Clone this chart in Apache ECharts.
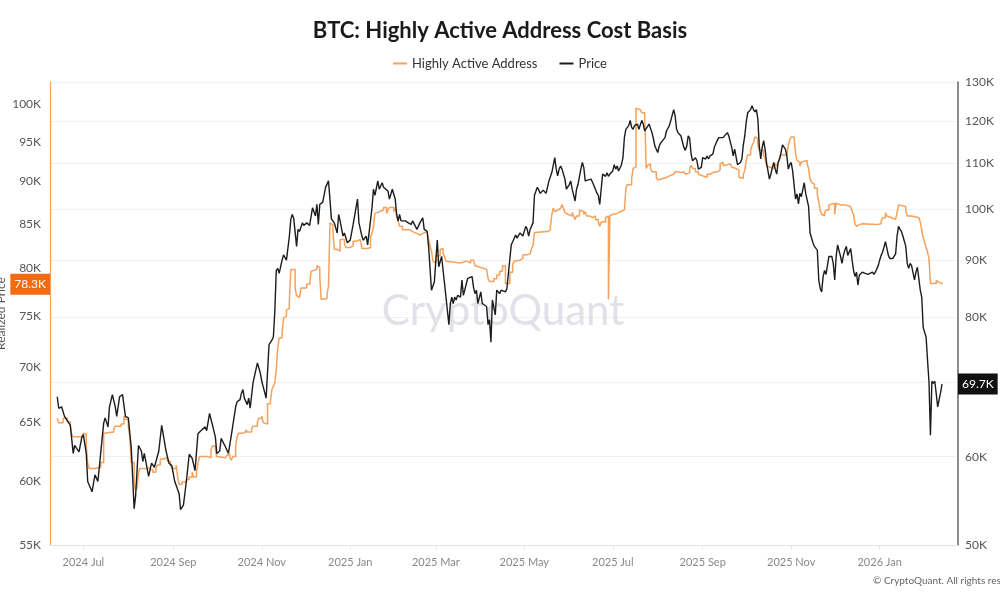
<!DOCTYPE html>
<html>
<head>
<meta charset="utf-8">
<script src="https://cdn.jsdelivr.net/npm/echarts@6/dist/echarts.min.js"></script>
<style>
html,body{margin:0;padding:0;background:#fff;}
#chart{width:1000px;height:600px;}
</style>
</head>
<body>
<div id="chart"></div>
<script>
// ---------- tick labels / categories ----------
const monthTicks = ['2024-07-01','2024-09-01','2024-11-01','2025-01-01','2025-03-01','2025-05-01','2025-07-01','2025-09-01','2025-11-01','2026-01-01'];
const xRange = ['2024-06-08', '2026-02-24'];
const leftTicks = [55,60,65,70,75,80,85,90,95,100];        // Realized Price (K)
const rightTicks = [50,60,70,80,90,100,110,120,130];       // Price (K) gridlines
const rightLabels = [50,60,70,80,90,100,110,120,130];
const monthNames = ['Jan','Feb','Mar','Apr','May','Jun','Jul','Aug','Sep','Oct','Nov','Dec'];

// ---------- Highly Active Address cost basis (K USD) ----------
const haa2024 = [
['2024-06-13',65.3],['2024-06-14',64.9],['2024-06-17',65.3],['2024-06-20',65.0],['2024-06-22',64.6],['2024-06-23',63.9],['2024-06-24',63.7],['2024-07-01',64.0],['2024-07-02',63.9],['2024-07-03',62.9],['2024-07-04',61.4],['2024-07-05',61.0],['2024-07-09',61.1],['2024-07-13',61.5],['2024-07-15',64.0],['2024-07-16',64.1],['2024-07-22',64.4],['2024-07-23',64.6],['2024-07-27',64.8],['2024-07-29',65.5],['2024-07-30',65.2],['2024-08-01',64.6],['2024-08-02',63.7],['2024-08-03',61.5],['2024-08-05',59.9],['2024-08-06',59.2],['2024-08-07',59.4],['2024-08-08',60.7],['2024-08-09',61.0],['2024-08-14',61.1],['2024-08-16',60.9],['2024-08-18',60.7],['2024-08-20',61.0],['2024-08-21',61.3],['2024-08-23',61.8],['2024-08-25',61.9],['2024-08-28',61.6],['2024-08-30',61.3],['2024-08-31',61.0],['2024-09-03',61.3],['2024-09-04',60.3],['2024-09-05',59.7],['2024-09-07',59.9],['2024-09-10',60.1],['2024-09-12',60.3],['2024-09-14',60.7],['2024-09-15',60.3],['2024-09-17',60.7],['2024-09-18',61.4],['2024-09-19',62.0],['2024-09-25',61.9],['2024-09-27',62.6],['2024-09-28',62.9],['2024-09-30',62.6],['2024-10-01',62.0],['2024-10-02',61.9],['2024-10-07',62.0],['2024-10-08',62.1],['2024-10-09',62.2],['2024-10-10',61.9],['2024-10-11',61.7],['2024-10-12',62.0],['2024-10-14',62.9],['2024-10-15',63.7],['2024-10-16',64.0],['2024-10-19',64.1],['2024-10-21',64.3],['2024-10-22',64.1],['2024-10-25',64.4],['2024-10-26',64.6],['2024-10-29',65.0],['2024-10-30',65.3],['2024-11-01',65.5],['2024-11-02',64.9],['2024-11-03',64.8],['2024-11-05',66.6],['2024-11-07',66.9],['2024-11-08',67.9],['2024-11-09',68.2],['2024-11-10',68.5],['2024-11-11',69.8],['2024-11-12',71.8],['2024-11-13',72.8],['2024-11-15',73.3],['2024-11-16',74.8],['2024-11-17',75.0],['2024-11-18',75.6],['2024-11-19',75.8],['2024-11-20',76.5],['2024-11-21',79.9],['2024-11-24',77.9],['2024-11-25',77.1],['2024-11-26',76.9],['2024-11-27',77.1],['2024-11-28',77.9],['2024-12-02',78.3],['2024-12-04',78.4],['2024-12-05',79.7],['2024-12-06',79.9],['2024-12-09',80.3],['2024-12-10',80.1],['2024-12-11',79.1],['2024-12-12',76.7],['2024-12-13',76.8],['2024-12-16',77.3],['2024-12-17',78.1],['2024-12-18',85.1],['2024-12-19',84.9],['2024-12-20',84.3],['2024-12-21',82.1],['2024-12-23',81.9],['2024-12-25',83.2],['2024-12-28',82.7],['2024-12-29',82.3]
];
const haa2025 = [
['2025-01-01',82.5],['2025-01-03',83.0],['2025-01-05',83.2],['2025-01-08',83.4],['2025-01-09',82.2],['2025-01-13',82.3],['2025-01-15',83.5],['2025-01-16',83.9],['2025-01-17',84.7],['2025-01-18',86.2],['2025-01-19',86.4],['2025-01-21',86.6],['2025-01-24',86.9],['2025-01-26',86.2],['2025-01-27',86.6],['2025-01-28',86.9],['2025-01-31',86.4],['2025-02-01',86.9],['2025-02-02',85.9],['2025-02-03',85.3],['2025-02-04',84.7],['2025-02-06',84.3],['2025-02-11',84.1],['2025-02-13',83.9],['2025-02-16',83.7],['2025-02-18',83.9],['2025-02-20',84.1],['2025-02-23',83.9],['2025-02-24',83.2],['2025-02-25',82.5],['2025-02-26',81.9],['2025-02-27',80.8],['2025-02-28',80.6],['2025-03-01',81.4],['2025-03-04',82.1],['2025-03-05',82.2],['2025-03-06',81.6],['2025-03-07',81.3],['2025-03-08',80.8],['2025-03-09',80.6],['2025-03-18',80.8],['2025-03-22',80.6],['2025-03-25',80.9],['2025-03-27',80.8],['2025-03-28',80.3],['2025-03-29',80.1],['2025-04-01',79.9],['2025-04-05',79.7],['2025-04-06',78.9],['2025-04-07',78.6],['2025-04-10',78.9],['2025-04-12',79.3],['2025-04-14',79.7],['2025-04-16',80.3],['2025-04-18',78.4],['2025-04-21',79.6],['2025-04-23',80.4],['2025-04-24',80.8],['2025-04-25',80.9],['2025-04-28',81.1],['2025-04-30',81.5],['2025-05-03',81.6],['2025-05-05',81.5],['2025-05-06',82.2],['2025-05-07',82.5],['2025-05-08',84.0],['2025-05-09',84.1],['2025-05-17',84.3],['2025-05-19',84.7],['2025-05-20',86.1],['2025-05-21',86.8],['2025-05-22',86.4],['2025-05-23',86.6],['2025-05-24',86.8],['2025-05-26',87.0],['2025-05-27',87.2],['2025-05-28',86.8],['2025-05-29',86.3],['2025-05-30',86.1],['2025-05-31',86.2],['2025-06-01',85.9],['2025-06-03',86.3],['2025-06-04',85.9],['2025-06-05',85.5],['2025-06-06',85.9],['2025-06-08',86.6],['2025-06-09',86.4],['2025-06-11',86.1],['2025-06-12',86.4],['2025-06-13',85.9],['2025-06-15',86.1],['2025-06-16',85.7],['2025-06-17',85.9],['2025-06-19',85.5],['2025-06-21',85.2],['2025-06-22',84.7],['2025-06-23',85.2],['2025-06-26',85.7],['2025-06-27',85.9],['2025-06-28',76.7],['2025-06-29',85.9],['2025-06-30',86.1],['2025-07-01',86.2],['2025-07-04',86.4],['2025-07-06',86.6],['2025-07-09',86.8],['2025-07-10',89.1],['2025-07-11',89.6],['2025-07-14',90.4],['2025-07-15',91.6],['2025-07-16',91.8],['2025-07-17',99.4],['2025-07-18',99.2],['2025-07-20',99.0],['2025-07-21',98.8],['2025-07-23',98.5],['2025-07-24',91.6],['2025-07-25',92.0],['2025-07-26',92.2],['2025-07-27',91.6],['2025-07-28',91.2],['2025-07-31',90.5],['2025-08-01',90.2],['2025-08-02',90.4],['2025-08-05',90.5],['2025-08-07',90.7],['2025-08-09',90.9],['2025-08-12',91.1],['2025-08-13',91.2],['2025-08-15',91.4],['2025-08-16',91.1],['2025-08-17',91.2],['2025-08-19',91.1],['2025-08-20',90.9],['2025-08-21',91.1],['2025-08-23',91.6],['2025-08-24',92.0],['2025-08-25',91.6],['2025-08-27',91.2],['2025-08-29',90.9],['2025-08-30',90.7],['2025-09-01',90.5],['2025-09-04',90.9],['2025-09-06',91.1],['2025-09-08',91.2],['2025-09-11',91.4],['2025-09-13',92.2],['2025-09-14',92.4],['2025-09-15',92.0],['2025-09-17',92.2],['2025-09-20',92.0],['2025-09-21',91.8],['2025-09-22',91.6],['2025-09-24',91.4],['2025-09-26',90.5],['2025-09-27',90.4],['2025-09-29',90.9],['2025-09-30',91.4],['2025-10-01',92.6],['2025-10-02',93.3],['2025-10-04',93.9],['2025-10-05',94.5],['2025-10-06',94.9],['2025-10-07',95.6],['2025-10-08',95.4],['2025-10-09',94.5],['2025-10-10',93.9],['2025-10-13',93.3],['2025-10-14',92.9],['2025-10-15',91.9],['2025-10-16',91.8],['2025-10-17',91.6],['2025-10-20',91.9],['2025-10-21',92.2],['2025-10-22',91.9],['2025-10-23',92.4],['2025-10-24',92.9],['2025-10-25',93.3],['2025-10-27',93.5],['2025-10-28',93.3],['2025-10-29',93.5],['2025-10-30',94.5],['2025-10-31',95.3],['2025-11-01',95.6],['2025-11-03',95.4],['2025-11-04',93.5],['2025-11-05',92.6],['2025-11-06',92.4],['2025-11-07',91.9],['2025-11-08',92.4],['2025-11-09',92.6],['2025-11-12',92.2],['2025-11-13',91.6],['2025-11-14',90.3],['2025-11-15',89.9],['2025-11-16',89.7],['2025-11-17',89.2],['2025-11-19',88.4],['2025-11-20',87.6],['2025-11-21',86.6],['2025-11-22',86.1],['2025-11-23',85.9],['2025-11-24',86.2],['2025-11-25',86.6],['2025-11-27',87.2],['2025-11-28',87.4],['2025-12-01',86.1],['2025-12-02',87.4],['2025-12-03',87.2],['2025-12-05',87.0],['2025-12-06',87.2],['2025-12-08',87.0],['2025-12-12',86.8],['2025-12-13',86.4],['2025-12-14',86.1],['2025-12-15',85.0],['2025-12-16',84.7],['2025-12-17',84.9],['2025-12-18',85.0],['2025-12-20',84.9],['2025-12-30',85.0]
];
const haa2026 = [
['2026-01-02',85.3],['2026-01-03',85.7],['2026-01-05',86.3],['2026-01-06',85.9],['2026-01-07',85.7],['2026-01-09',85.5],['2026-01-12',85.7],['2026-01-13',86.3],['2026-01-14',87.2],['2026-01-15',87.0],['2026-01-19',86.6],['2026-01-20',85.9],['2026-01-23',86.1],['2026-01-24',85.7],['2026-01-28',85.5],['2026-01-29',85.2],['2026-01-30',84.3],['2026-01-31',83.4],['2026-02-01',82.9],['2026-02-02',82.3],['2026-02-03',81.8],['2026-02-04',81.1],['2026-02-05',78.4],['2026-02-09',78.7],['2026-02-10',78.5],['2026-02-11',78.7],['2026-02-12',78.4],['2026-02-13',78.3]
];

// ---------- BTC price (K USD) ----------
const price2024 = [
['2024-06-13',67.9],['2024-06-14',66.3],['2024-06-16',66.5],['2024-06-18',65.2],['2024-06-20',64.6],['2024-06-22',64.0],['2024-06-24',60.4],['2024-06-25',61.4],['2024-06-28',60.6],['2024-06-30',62.5],['2024-07-01',62.8],['2024-07-03',60.4],['2024-07-04',57.0],['2024-07-07',55.8],['2024-07-09',57.8],['2024-07-11',57.0],['2024-07-12',58.7],['2024-07-15',64.3],['2024-07-16',65.0],['2024-07-18',63.8],['2024-07-19',66.5],['2024-07-21',68.2],['2024-07-23',66.5],['2024-07-24',65.2],['2024-07-26',67.9],['2024-07-28',68.2],['2024-07-30',65.2],['2024-08-01',65.0],['2024-08-02',63.0],['2024-08-03',61.2],['2024-08-05',53.9],['2024-08-06',55.3],['2024-08-08',61.4],['2024-08-10',60.7],['2024-08-11',59.4],['2024-08-12',60.4],['2024-08-15',57.6],['2024-08-17',59.2],['2024-08-19',58.7],['2024-08-22',60.7],['2024-08-24',64.0],['2024-08-25',63.8],['2024-08-27',60.7],['2024-08-29',59.2],['2024-08-31',58.9],['2024-09-02',57.0],['2024-09-05',55.6],['2024-09-06',53.8],['2024-09-08',54.3],['2024-09-10',57.0],['2024-09-12',60.3],['2024-09-14',59.8],['2024-09-16',58.3],['2024-09-18',62.9],['2024-09-20',63.3],['2024-09-23',63.8],['2024-09-24',63.3],['2024-09-26',65.6],['2024-09-27',65.4],['2024-09-30',62.5],['2024-10-01',60.4],['2024-10-03',60.7],['2024-10-04',62.3],['2024-10-05',62.5],['2024-10-07',61.2],['2024-10-09',60.4],['2024-10-11',62.7],['2024-10-12',62.9],['2024-10-14',66.5],['2024-10-15',67.2],['2024-10-17',67.5],['2024-10-18',68.4],['2024-10-19',68.9],['2024-10-20',67.7],['2024-10-22',66.8],['2024-10-23',67.7],['2024-10-24',66.3],['2024-10-26',69.9],['2024-10-29',72.8],['2024-10-31',71.3],['2024-11-01',70.1],['2024-11-02',69.3],['2024-11-04',67.7],['2024-11-06',75.6],['2024-11-08',76.3],['2024-11-09',76.8],['2024-11-10',81.0],['2024-11-11',88.1],['2024-11-12',88.5],['2024-11-13',87.6],['2024-11-15',90.0],['2024-11-16',91.0],['2024-11-18',90.0],['2024-11-20',94.5],['2024-11-21',97.9],['2024-11-22',98.9],['2024-11-23',98.2],['2024-11-25',92.6],['2024-11-26',95.9],['2024-11-27',95.5],['2024-11-29',97.2],['2024-11-30',96.7],['2024-12-02',97.2],['2024-12-04',96.7],['2024-12-06',100.3],['2024-12-08',98.6],['2024-12-09',101.0],['2024-12-10',96.9],['2024-12-11',101.0],['2024-12-13',101.4],['2024-12-15',104.6],['2024-12-17',106.0],['2024-12-18',102.1],['2024-12-19',98.0],['2024-12-21',97.2],['2024-12-23',95.2],['2024-12-24',98.9],['2024-12-25',97.6],['2024-12-27',94.6],['2024-12-28',95.2],['2024-12-30',93.3]
];
const price2025 = [
['2025-01-01',93.8],['2025-01-03',96.9],['2025-01-06',102.1],['2025-01-07',97.2],['2025-01-09',94.6],['2025-01-10',93.8],['2025-01-12',94.6],['2025-01-13',92.9],['2025-01-16',100.3],['2025-01-17',104.2],['2025-01-18',102.9],['2025-01-20',106.0],['2025-01-21',104.2],['2025-01-23',105.6],['2025-01-24',104.6],['2025-01-25',104.9],['2025-01-27',103.8],['2025-01-28',102.1],['2025-01-30',104.2],['2025-02-01',102.1],['2025-02-02',98.9],['2025-02-03',97.6],['2025-02-04',98.9],['2025-02-05',97.6],['2025-02-08',97.6],['2025-02-10',97.2],['2025-02-12',96.9],['2025-02-13',97.6],['2025-02-16',95.9],['2025-02-18',97.2],['2025-02-20',98.2],['2025-02-21',95.9],['2025-02-23',95.5],['2025-02-24',92.6],['2025-02-26',84.6],['2025-02-27',84.3],['2025-02-28',86.1],['2025-03-02',93.8],['2025-03-03',88.8],['2025-03-05',90.7],['2025-03-06',88.1],['2025-03-07',85.8],['2025-03-10',78.8],['2025-03-11',82.3],['2025-03-12',83.4],['2025-03-13',82.3],['2025-03-14',83.4],['2025-03-15',82.9],['2025-03-16',83.7],['2025-03-18',83.4],['2025-03-19',86.4],['2025-03-20',83.7],['2025-03-21',84.0],['2025-03-23',86.7],['2025-03-26',87.0],['2025-03-27',85.1],['2025-03-28',84.0],['2025-03-29',84.6],['2025-03-30',82.3],['2025-04-01',84.3],['2025-04-02',82.3],['2025-04-03',82.5],['2025-04-05',81.8],['2025-04-06',78.8],['2025-04-07',79.6],['2025-04-08',76.0],['2025-04-09',82.9],['2025-04-11',80.4],['2025-04-12',84.6],['2025-04-14',84.0],['2025-04-15',84.6],['2025-04-18',84.3],['2025-04-19',84.9],['2025-04-22',92.9],['2025-04-23',93.5],['2025-04-25',94.8],['2025-04-26',94.2],['2025-04-28',95.2],['2025-04-30',94.6],['2025-05-02',96.5],['2025-05-03',95.9],['2025-05-04',94.6],['2025-05-05',95.9],['2025-05-07',97.2],['2025-05-08',102.9],['2025-05-10',104.6],['2025-05-11',104.0],['2025-05-12',103.3],['2025-05-13',103.6],['2025-05-14',104.0],['2025-05-16',103.3],['2025-05-18',106.0],['2025-05-19',105.6],['2025-05-20',107.9],['2025-05-22',111.2],['2025-05-23',108.6],['2025-05-24',107.1],['2025-05-25',108.6],['2025-05-26',109.3],['2025-05-27',108.6],['2025-05-29',106.4],['2025-05-30',104.2],['2025-05-31',104.4],['2025-06-01',105.2],['2025-06-02',106.0],['2025-06-03',104.2],['2025-06-04',103.8],['2025-06-05',101.7],['2025-06-06',104.2],['2025-06-07',105.2],['2025-06-09',108.6],['2025-06-10',110.1],['2025-06-11',109.0],['2025-06-12',106.0],['2025-06-13',106.4],['2025-06-16',106.4],['2025-06-17',106.0],['2025-06-18',105.0],['2025-06-19',104.6],['2025-06-20',103.4],['2025-06-21',102.9],['2025-06-22',101.0],['2025-06-23',104.2],['2025-06-24',107.5],['2025-06-26',107.0],['2025-06-27',107.8],['2025-06-28',107.0],['2025-06-29',107.5],['2025-07-01',108.2],['2025-07-02',109.6],['2025-07-03',108.6],['2025-07-04',109.3],['2025-07-05',108.2],['2025-07-07',109.6],['2025-07-08',111.2],['2025-07-09',115.9],['2025-07-10',117.9],['2025-07-11',117.5],['2025-07-12',118.8],['2025-07-13',120.1],['2025-07-14',118.4],['2025-07-15',117.9],['2025-07-16',118.8],['2025-07-18',119.2],['2025-07-19',117.9],['2025-07-20',117.5],['2025-07-21',120.1],['2025-07-22',119.2],['2025-07-23',117.5],['2025-07-24',117.9],['2025-07-26',119.2],['2025-07-27',118.8],['2025-07-28',117.1],['2025-07-29',115.7],['2025-07-30',113.9],['2025-08-01',112.4],['2025-08-02',113.9],['2025-08-03',114.6],['2025-08-04',114.2],['2025-08-06',115.9],['2025-08-07',117.5],['2025-08-08',117.1],['2025-08-09',118.8],['2025-08-10',120.1],['2025-08-12',122.8],['2025-08-13',121.2],['2025-08-14',117.9],['2025-08-15',117.1],['2025-08-16',117.5],['2025-08-17',116.3],['2025-08-19',113.6],['2025-08-20',112.9],['2025-08-21',113.9],['2025-08-22',116.3],['2025-08-23',115.7],['2025-08-24',112.0],['2025-08-25',110.5],['2025-08-27',111.2],['2025-08-28',110.5],['2025-08-29',108.6],['2025-08-30',108.2],['2025-08-31',109.0],['2025-09-01',111.2],['2025-09-03',110.9],['2025-09-04',111.6],['2025-09-05',110.9],['2025-09-06',111.6],['2025-09-07',111.2],['2025-09-08',112.0],['2025-09-09',113.6],['2025-09-11',115.2],['2025-09-12',115.9],['2025-09-13',116.3],['2025-09-15',115.9],['2025-09-16',116.3],['2025-09-18',117.1],['2025-09-19',116.3],['2025-09-20',114.9],['2025-09-21',113.6],['2025-09-22',111.6],['2025-09-23',113.2],['2025-09-25',109.6],['2025-09-26',109.3],['2025-09-27',110.1],['2025-09-28',110.9],['2025-09-29',114.2],['2025-09-30',116.3],['2025-10-01',119.7],['2025-10-02',122.0],['2025-10-04',122.8],['2025-10-05',123.8],['2025-10-06',122.8],['2025-10-07',122.2],['2025-10-08',122.8],['2025-10-09',120.5],['2025-10-10',113.9],['2025-10-11',110.9],['2025-10-12',113.6],['2025-10-13',115.2],['2025-10-14',113.2],['2025-10-15',110.1],['2025-10-17',106.4],['2025-10-18',107.5],['2025-10-19',109.0],['2025-10-20',110.1],['2025-10-21',108.6],['2025-10-22',107.5],['2025-10-23',110.1],['2025-10-24',110.9],['2025-10-25',112.4],['2025-10-26',114.2],['2025-10-28',113.2],['2025-10-29',111.6],['2025-10-30',108.6],['2025-10-31',109.6],['2025-11-01',110.1],['2025-11-02',108.2],['2025-11-04',102.1],['2025-11-05',103.2],['2025-11-06',101.1],['2025-11-07',103.3],['2025-11-08',102.6],['2025-11-10',105.6],['2025-11-11',103.3],['2025-11-13',100.5],['2025-11-14',95.2],['2025-11-15',95.5],['2025-11-16',93.3],['2025-11-17',92.6],['2025-11-19',91.9],['2025-11-20',86.4],['2025-11-21',84.9],['2025-11-22',84.3],['2025-11-23',87.0],['2025-11-24',88.1],['2025-11-25',87.4],['2025-11-27',90.7],['2025-11-28',90.9],['2025-11-29',90.7],['2025-11-30',89.4],['2025-12-01',86.4],['2025-12-02',90.7],['2025-12-03',92.9],['2025-12-05',90.7],['2025-12-06',89.4],['2025-12-07',90.9],['2025-12-08',91.9],['2025-12-09',92.6],['2025-12-10',90.9],['2025-12-12',92.2],['2025-12-13',90.0],['2025-12-14',88.1],['2025-12-15',87.0],['2025-12-16',87.8],['2025-12-17',85.5],['2025-12-18',87.3],['2025-12-20',87.8],['2025-12-21',88.1],['2025-12-22',87.6],['2025-12-23',87.8],['2025-12-24',87.4],['2025-12-25',87.6],['2025-12-27',87.8],['2025-12-28',87.4],['2025-12-29',87.8],['2025-12-30',87.6],['2025-12-31',89.0]
];
const price2026 = [
['2026-01-01',90.0],['2026-01-02',90.9],['2026-01-03',91.5],['2026-01-05',93.5],['2026-01-06',93.3],['2026-01-07',90.9],['2026-01-08',90.3],['2026-01-09',90.5],['2026-01-10',90.3],['2026-01-12',91.2],['2026-01-13',94.6],['2026-01-14',96.5],['2026-01-15',95.9],['2026-01-16',95.5],['2026-01-17',94.6],['2026-01-19',92.6],['2026-01-20',89.4],['2026-01-21',88.5],['2026-01-22',89.4],['2026-01-23',89.0],['2026-01-25',86.4],['2026-01-26',87.8],['2026-01-27',88.7],['2026-01-28',89.0],['2026-01-29',84.6],['2026-01-30',83.4],['2026-01-31',78.3],['2026-02-01',78.6],['2026-02-02',76.8],['2026-02-03',73.2],['2026-02-04',70.0],['2026-02-05',62.7],['2026-02-06',70.1],['2026-02-07',69.8],['2026-02-08',70.1],['2026-02-09',68.3],['2026-02-10',66.5],['2026-02-11',66.3],['2026-02-12',68.5],['2026-02-13',69.7]
];

// ---------- build ----------
const toTime = s => { const p = s.split('-').map(Number); return Date.UTC(p[0], p[1] - 1, p[2]); };
const toPoints = arr => arr.map(([d, v]) => [toTime(d), v]);
const haaData = toPoints(haa2024.concat(haa2025, haa2026));
const priceData = toPoints(price2024.concat(price2025, price2026));
const lastHaa = haaData[haaData.length - 1][1];
const lastPrice = priceData[priceData.length - 1][1];
const tickTimes = monthTicks.map(toTime);
const kFmt = v => Math.round(v) + 'K';
const FONT = 'Lato, "Noto Sans", sans-serif';

const chart = echarts.init(document.getElementById('chart'));
chart.setOption({
  animation: false,
  backgroundColor: '#ffffff',
  textStyle: { fontFamily: FONT },
  title: {
    text: 'BTC: Highly Active Address Cost Basis',
    left: 'center', top: 15,
    textStyle: { fontSize: 22, fontWeight: 'bold', color: '#1a1a1a', fontFamily: FONT }
  },
  legend: {
    top: 52, left: 'center', itemGap: 22, itemWidth: 14, itemHeight: 2, icon: 'rect',
    textStyle: { fontSize: 13, color: '#333', fontFamily: FONT },
    data: ['Highly Active Address', 'Price']
  },
  grid: { left: 50, right: 42, top: 82, bottom: 55, containLabel: false, outerBoundsMode: 'none' },
  xAxis: {
    type: 'value',
    min: toTime(xRange[0]), max: toTime(xRange[1]),
    axisLine: { show: true, onZero: false, lineStyle: { color: '#e4e4e4' } },
    axisTick: { show: true, customValues: tickTimes, length: 4, lineStyle: { color: '#e4e4e4' } },
    axisLabel: {
      customValues: tickTimes, color: '#888', fontSize: 11, margin: 12, fontFamily: FONT,
      formatter: v => { const d = new Date(v); return d.getUTCFullYear() + ' ' + monthNames[d.getUTCMonth()]; }
    },
    splitLine: { show: false }
  },
  yAxis: [
    {
      type: 'log', logBase: 10, min: 55, max: 103, position: 'left',
      name: 'Realized Price', nameLocation: 'middle', nameGap: 43, nameRotate: 90, nameMoveOverlap: false,
      nameTextStyle: { color: '#555', fontSize: 12, fontFamily: FONT },
      axisLine: { show: true, lineStyle: { color: '#f6a15c', width: 1.2 } },
      axisTick: { show: false, customValues: leftTicks },
      axisLabel: { customValues: leftTicks, formatter: kFmt, color: '#555', fontSize: 12, margin: 9, fontFamily: FONT },
      splitLine: { show: false }
    },
    {
      type: 'log', logBase: 10, min: 50, max: 130, position: 'right',
      axisLine: { show: true, lineStyle: { color: '#666', width: 1.5 } },
      axisTick: { show: false, customValues: rightTicks },
      axisLabel: { customValues: rightLabels, formatter: kFmt, color: '#555', fontSize: 12, margin: 7, fontFamily: FONT },
      splitLine: { show: true, lineStyle: { color: '#f1f1f1', width: 1 } }
    }
  ],
  graphic: [
    { type: 'text', x: 503, y: 311, z: 1, silent: true,
      style: { text: 'CryptoQuant', fontSize: 42, fontFamily: FONT, fill: 'rgba(200,200,215,0.55)', align: 'center', verticalAlign: 'middle' } },
    { type: 'text', x: 873, y: 581, silent: true,
      style: { text: '\u00A9 CryptoQuant. All rights reserved.', fontSize: 10, fontFamily: FONT, fill: '#666', verticalAlign: 'middle' } }
  ],
  series: [
    {
      name: 'Highly Active Address', type: 'line', yAxisIndex: 0, step: 'end',
      showSymbol: false, symbol: 'none', z: 3,
      lineStyle: { color: '#f6a15c', width: 1.5 }, itemStyle: { color: '#f6a15c' },
      data: haaData,
      markLine: {
        silent: true, symbol: ['none', 'none'], animation: false, z: 10,
        lineStyle: { color: 'rgba(0,0,0,0)', width: 0, type: 'solid' },
        label: { show: true, position: 'start', distance: 0, formatter: lastHaa.toFixed(1) + 'K',
          backgroundColor: '#f26b12', color: '#fff', fontSize: 12, padding: [5, 4, 4, 4], fontFamily: FONT },
        emphasis: { disabled: true },
        data: [{ yAxis: lastHaa }]
      }
    },
    {
      name: 'Price', type: 'line', yAxisIndex: 1,
      showSymbol: false, symbol: 'none', z: 4,
      lineStyle: { color: '#1c1c1c', width: 1.4 }, itemStyle: { color: '#1c1c1c' },
      data: priceData,
      markLine: {
        silent: true, symbol: ['none', 'none'], animation: false, z: 10,
        lineStyle: { color: 'rgba(0,0,0,0)', width: 0, type: 'solid' },
        label: { show: true, position: 'end', distance: 0, formatter: lastPrice.toFixed(1) + 'K',
          backgroundColor: '#111', color: '#fff', fontSize: 12, padding: [5, 4, 4, 4], fontFamily: FONT },
        emphasis: { disabled: true },
        data: [{ yAxis: lastPrice }]
      }
    }
  ]
});
</script>
</body>
</html>
